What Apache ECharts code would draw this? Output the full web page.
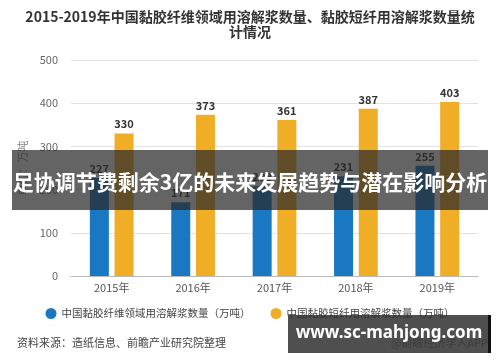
<!DOCTYPE html>
<html><head><meta charset="utf-8">
<script src="https://cdn.jsdelivr.net/npm/echarts@6/dist/echarts.min.js"></script>
<style>html,body{margin:0;padding:0;background:#fff}#c{width:500px;height:362px}</style>
</head><body><div id="c"></div>
<script>
const categories = ['2015年','2016年','2017年','2018年','2019年'];
const fiberValues = [227, 171, 208, 231, 255];
const stapleValues = [330, 373, 361, 387, 403];
const seriesNames = ['中国黏胶纤维领域用溶解浆数量（万吨）','中国黏胶短纤用溶解浆数量（万吨）'];
const yTicks = [0,100,200,300,400,500];
const chart = echarts.init(document.getElementById('c'));
const F = '"Noto Sans CJK SC","Noto Sans",sans-serif';
chart.setOption({
  animation:false,
  textStyle:{fontFamily:F},
  title:{text:'2015-2019年中国黏胶纤维领域用溶解浆数量、黏胶短纤用溶解浆数量统\n计情况',left:'center',top:4,
    textStyle:{fontSize:14,fontWeight:'bold',color:'#333',lineHeight:15,fontFamily:F}},
  grid:{left:71,right:22,top:60,bottom:86},
  legend:{data:seriesNames,bottom:38,left:'center',icon:'circle',itemWidth:11,itemHeight:11,itemGap:20,
    textStyle:{fontSize:10.5,color:'#444',fontFamily:F}},
  xAxis:{type:'category',data:categories,axisTick:{alignWithLabel:true,lineStyle:{color:'#bbb'}},
    axisLine:{lineStyle:{color:'#bbb'}},axisLabel:{color:'#555',fontSize:11,margin:6}},
  yAxis:{type:'value',min:yTicks[0],max:yTicks[yTicks.length-1],interval:100,name:'单位：万吨',nameLocation:'middle',nameGap:42,nameRotate:90,
    nameTextStyle:{color:'#888',fontSize:11},
    axisLabel:{color:'#666',fontSize:11,margin:13},splitLine:{lineStyle:{color:'#e3e3e3'}},axisLine:{show:false}},
  series:[
    {name:seriesNames[0],type:'bar',data:fiberValues,barWidth:19,barGap:'30%',itemStyle:{color:'#1a78c2'},
      label:{show:true,position:'top',color:'#333',fontSize:11,fontWeight:'bold',distance:4}},
    {name:seriesNames[1],type:'bar',data:stapleValues,barWidth:19,itemStyle:{color:'#f0ae27'},
      label:{show:true,position:'top',color:'#333',fontSize:11,fontWeight:'bold',distance:4}}
  ],
  graphic:[
    {type:'text',right:12,top:337,z:50,style:{text:'@前瞻经济学人APP',fill:'#999',fontSize:11,fontFamily:F}},
    {type:'text',left:17,top:337,style:{text:'资料来源：造纸信息、前瞻产业研究院整理',fill:'#444',fontSize:11,fontFamily:F}},
    {type:'rect',shape:{x:12,y:150,width:476,height:60},z:100,style:{fill:'rgba(40,40,40,0.72)'}},
    {type:'text',x:250,y:182,z:101,style:{text:'足协调节费剩余3亿的未来发展趋势与潜在影响分析',fill:'#fff',fontSize:21,fontWeight:'bold',
      fontFamily:F,align:'center',verticalAlign:'middle'}},
    {type:'rect',shape:{x:288,y:315,width:200,height:38},z:100,style:{fill:'rgba(40,40,40,0.82)'}},
    {type:'rect',shape:{x:488,y:315,width:3,height:38},z:100,style:{fill:'#111'}},
    {type:'text',x:389,y:333,z:101,style:{text:'www.sc-mahjong.com',fill:'#fff',fontSize:17,fontWeight:'bold',
      fontFamily:'"Noto Sans",sans-serif',align:'center',verticalAlign:'middle'}}
  ]
});
</script></body></html>
